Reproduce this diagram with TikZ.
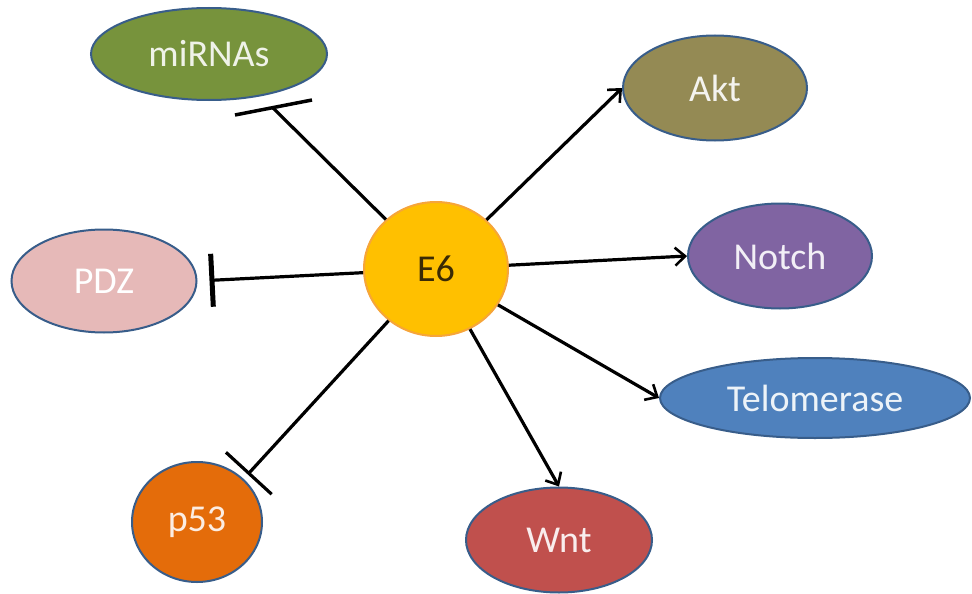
\documentclass[tikz,border=0pt]{standalone}
\usepackage{fontspec}
\setmainfont{Carlito}
\usetikzlibrary{shapes.geometric,arrows.meta,positioning,calc}

\definecolor{edgeblue}{HTML}{385D8A}
\definecolor{egold}{HTML}{FFC000}
\definecolor{eorange}{HTML}{F6A53A}
\definecolor{etext}{HTML}{3A2A05}
\definecolor{mirgreen}{HTML}{77933C}
\definecolor{aktolive}{HTML}{948A54}
\definecolor{notchpurple}{HTML}{8064A2}
\definecolor{teloblue}{HTML}{4F81BD}
\definecolor{wntred}{HTML}{C0504D}
\definecolor{porange}{HTML}{E46C0A}
\definecolor{pdzpink}{HTML}{E6B9B8}

\tikzset{
  blob/.style={ellipse, draw=edgeblue, line width=2pt, inner sep=0pt, font=\fontsize{38}{42}\selectfont},
  act/.style={-{Straight Barb[length=10pt,width=18pt,line width=2.6pt]}, line width=3.2pt},
  inhib/.style={line width=3.2pt},
}

\begin{document}
\begin{tikzpicture}[x=1pt,y=-1pt]
    \useasboundingbox (0,0) rectangle (972,594);

    \node[ellipse, draw=eorange, fill=egold, line width=2pt, minimum width=144pt, minimum height=134pt, inner sep=0pt, font=\fontsize{38}{42}\selectfont, text=etext] (E6) at (436,269) {E6};

    \node[blob, fill=mirgreen, text=mirgreen!12!white, minimum width=236pt, minimum height=92pt] (miRNAs) at (209,54) {miRNAs};
    \node[blob, fill=aktolive, text=aktolive!10!white, minimum width=184pt, minimum height=105pt] (Akt) at (715,88) {Akt};
    \node[blob, fill=notchpurple, text=notchpurple!10!white, minimum width=184pt, minimum height=105pt] (Notch) at (780,256) {Notch};
    \node[blob, fill=teloblue, text=teloblue!10!white, minimum width=310pt, minimum height=80pt] (Telomerase) at (815,398) {Telomerase};
    \node[blob, fill=wntred, text=wntred!10!white, minimum width=186pt, minimum height=105pt] (Wnt) at (559,540) {Wnt};
    \node[blob, fill=porange, text=porange!12!white, minimum width=130pt, minimum height=120pt] (p53) at (197,522) {p53};
    \node[blob, fill=pdzpink, text=white, minimum width=185pt, minimum height=103pt] (PDZ) at (104,281) {PDZ};

    % activation
    \draw[act] (E6) -- (Akt.west);
    \draw[act] (E6) -- (Notch.west);
    \draw[act] (E6) -- (Telomerase.west);
    \draw[act] (E6) -- (Wnt.north);

    % inhibition
    \coordinate (mibar) at (273,108);
    \draw[inhib] (E6) -- (mibar);
    \draw[line width=3.5pt] ([shift={(-38,7)}]mibar) -- ([shift={(39,-8)}]mibar);
    \draw[inhib, -{Bar[width=53pt,line width=5pt]}, shorten >=12pt] (E6) -- (PDZ.east);
    \draw[inhib, -{Bar[width=62pt,line width=3.2pt]}, shorten >=6pt] (E6) -- (p53.north east);
\end{tikzpicture}
\end{document}
